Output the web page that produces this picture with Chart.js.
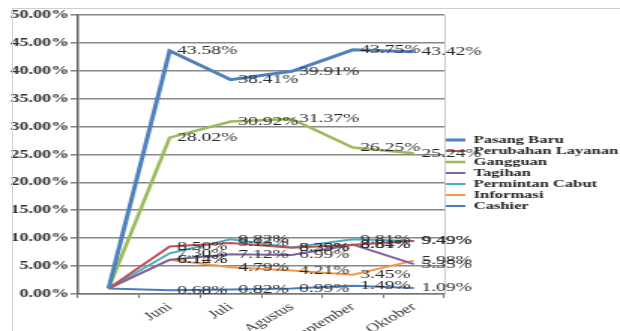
<!DOCTYPE html>
<html>
<head>
<meta charset="utf-8">
<title>Persentase Keluhan</title>
<script src="https://cdn.jsdelivr.net/npm/chart.js@4.4.1/dist/chart.umd.min.js"></script>
<style>
  body { margin: 0; background: #fff; }
  #wrap { position: relative; width: 620px; height: 331px; }
  #frame { position: absolute; left: 12px; top: 8px; right: 0; bottom: 0; border-top: 1px solid #cfcfcf; border-left: 1px solid #cfcfcf; pointer-events: none; }
</style>
</head>
<body>
<div id="wrap">
  <!-- drawn at 413 wide and shown at 620, the reference is stretched sideways -->
  <canvas id="chart" width="413" height="331" style="width:620px;height:331px"></canvas>
  <div id="frame"></div>
</div>
<script>
var months = ['', 'Juni', 'Juli', 'Agustus', 'September', 'Oktober'];

var pasangBaru       = [1.0, 43.58, 38.41, 39.91, 43.75, 43.42];
var perubahanLayanan = [1.0, 8.50, 9.13, 8.29, 8.81, 9.49];
var gangguan         = [1.0, 28.02, 30.92, 31.37, 26.25, 25.24];
var tagihan          = [1.0, 6.14, 7.12, 6.99, 8.84, 5.35];
var permintanCabut   = [1.0, 7.30, 9.82, 8.35, 9.81, 9.49];
var informasi        = [1.0, 6.12, 4.79, 4.21, 3.45, 5.98];
var cashier          = [1.0, 0.68, 0.82, 0.99, 1.49, 1.09];

var serif = "'Liberation Serif', 'DejaVu Serif', serif";

// value labels next to each point (first, empty category has none)
var valueLabels = {
    id: 'valueLabels',
    afterDatasetsDraw: function (chart) {
        var ctx = chart.ctx;
        ctx.save();
        ctx.font = '13px ' + serif;
        ctx.fillStyle = '#2a2a2a';
        ctx.textAlign = 'left';
        ctx.textBaseline = 'middle';
        chart.data.datasets.forEach(function (ds, di) {
            var meta = chart.getDatasetMeta(di);
            meta.data.forEach(function (pt, i) {
                if (i == 0) return;
                ctx.fillText(ds.data[i].toFixed(2) + '%', pt.x + 5, pt.y);
            });
        });
        ctx.restore();
    }
};

// thin grey line closing the plot on the right
var rightEdge = {
    id: 'rightEdge',
    beforeDatasetsDraw: function (chart) {
        var a = chart.chartArea, ctx = chart.ctx;
        ctx.save();
        ctx.strokeStyle = '#c8c8c8';
        ctx.lineWidth = 1;
        ctx.beginPath();
        ctx.moveTo(a.right + 0.5, a.top);
        ctx.lineTo(a.right + 0.5, a.bottom);
        ctx.stroke();
        ctx.restore();
    }
};

function line(label, data, color, width) {
    return { label: label, data: data, borderColor: color, backgroundColor: color,
             borderWidth: width, pointRadius: 0, tension: 0, fill: false };
}

var ctx = document.getElementById('chart').getContext('2d');
var chart = new Chart(ctx, {
    type: 'line',
    data: {
        labels: months,
        datasets: [
            line('Pasang Baru', pasangBaru, '#4F81BD', 3),
            line('Perubahan Layanan', perubahanLayanan, '#C0504D', 2),
            line('Gangguan', gangguan, '#9BBB59', 2.5),
            line('Tagihan', tagihan, '#8064A2', 2),
            line('Permintan Cabut', permintanCabut, '#4BACC6', 2),
            line('Informasi', informasi, '#F79646', 2),
            line('Cashier', cashier, '#4A7EBB', 2)
        ]
    },
    options: {
        responsive: false,
        devicePixelRatio: 1,
        animation: false,
        layout: { padding: { top: 15, right: 0, bottom: 0, left: 0 } },
        plugins: {
            legend: {
                position: 'right',
                maxWidth: 117,
                labels: {
                    usePointStyle: true,
                    pointStyle: 'line',
                    pointStyleWidth: 14,
                    padding: 0,
                    color: '#222',
                    font: { family: serif, size: 11, weight: 'bold' }
                }
            },
            tooltip: { enabled: false }
        },
        scales: {
            x: {
                offset: true,
                grid: { display: true, offset: true, drawOnChartArea: false, tickLength: 4, color: '#777' },
                border: { color: '#777', width: 1.5 },
                ticks: {
                    autoSkip: false, minRotation: 40, maxRotation: 40, padding: 2,
                    color: '#333', font: { family: serif, size: 12 }
                },
                afterFit: function (s) { s.height = 37; }
            },
            y: {
                min: 0, max: 50,
                ticks: {
                    stepSize: 5, padding: 1, color: '#333',
                    font: { family: serif, size: 12, weight: 'bold' },
                    callback: function (v) { return v.toFixed(2) + '%'; }
                },
                grid: { color: '#888', lineWidth: 1.6, tickLength: 5 },
                border: { color: '#666', width: 1.5 },
                afterFit: function (s) { s.width = 52; }
            }
        }
    },
    plugins: [rightEdge, valueLabels]
});
</script>
</body>
</html>
